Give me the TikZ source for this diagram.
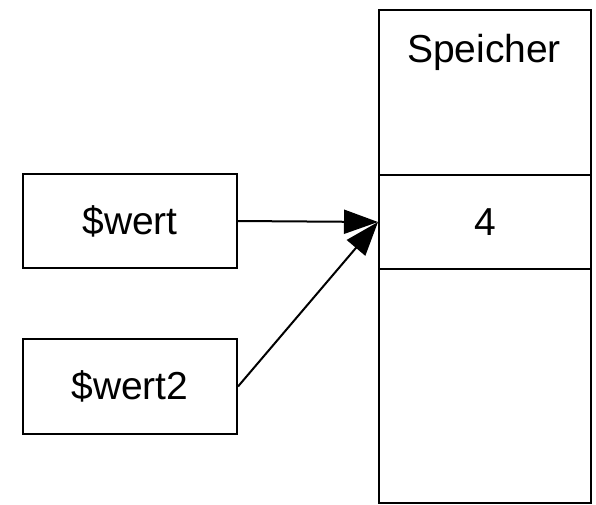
\documentclass[tikz,border=0pt]{standalone}
\usepackage{fontspec}
\setmainfont{Liberation Sans}
\usetikzlibrary{arrows.meta}
\begin{document}
\begin{tikzpicture}[x=1pt,y=-1pt,
  cell/.style={draw, line width=2pt, inner sep=0pt, font=\fontsize{39}{44}\selectfont},
  ptr/.style={line width=2pt, -{Triangle[length=34pt,width=24pt]}}]
  \useasboundingbox (0,0) rectangle (596,504);
  % variables
  \node[cell, minimum width=214pt, minimum height=94pt] (wert) at (130,221) {\$wert};
  \node[cell, minimum width=214pt, minimum height=95pt] (wert2) at (130,386.5) {\$wert2};
  % memory column
  \node[cell, minimum width=212pt, minimum height=165pt, anchor=north west] (top) at (378,9) {};
  \node[cell, minimum width=212pt, minimum height=94pt, anchor=north west] (val) at (378,174) {4};
  \node[cell, minimum width=212pt, minimum height=234pt, anchor=north west] (rest) at (378,268) {};
  \node[font=\fontsize{39}{44}\selectfont, anchor=base] (label) at (484,62) {Speicher};
  % pointers
  \draw[ptr] (wert.east) -- (val.west);
  \draw[ptr] (wert2.east) -- (val.west);
\end{tikzpicture}
\end{document}
